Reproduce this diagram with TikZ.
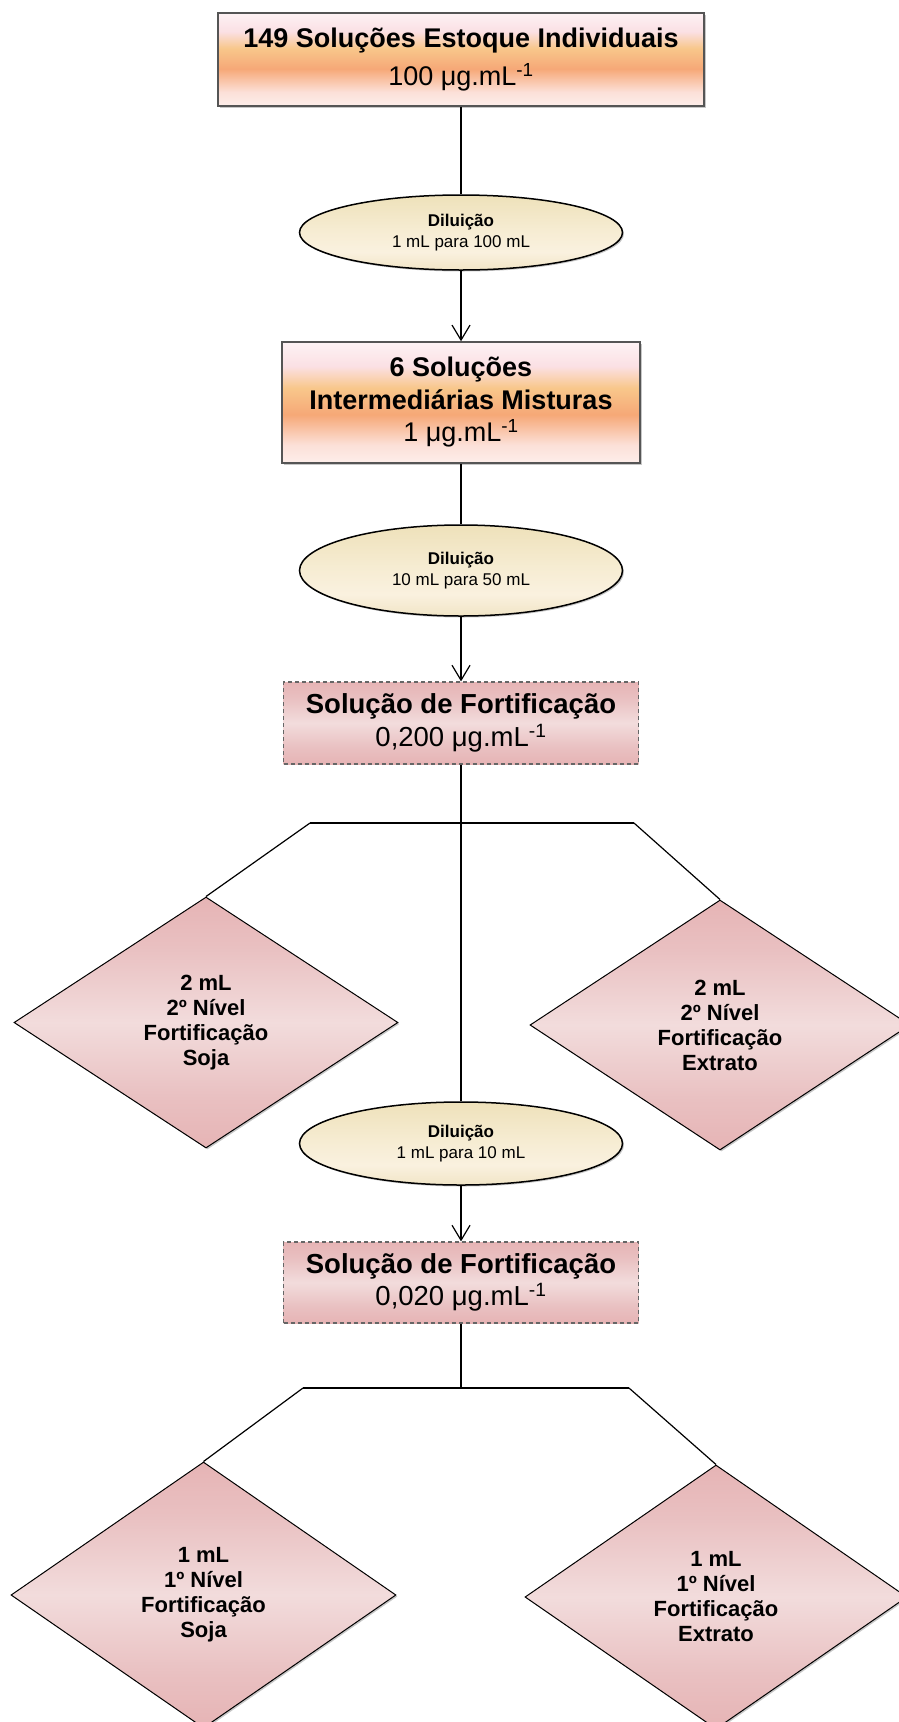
\documentclass[tikz,border=0pt]{standalone}
\usepackage{fontspec}
\setmainfont{Liberation Sans}
\usetikzlibrary{shapes.geometric,arrows.meta,shadows}

% palette
\definecolor{peachA}{HTML}{FDEEEA}
\definecolor{peachB}{HTML}{FCE0D8}
\definecolor{peachC}{HTML}{F6A877}
\definecolor{peachD}{HTML}{F8C78B}
\definecolor{peachE}{HTML}{FBE0E4}
\definecolor{peachF}{HTML}{FDF2F4}
\definecolor{roseA}{HTML}{E6B4B5}
\definecolor{roseB}{HTML}{E9C0C1}
\definecolor{roseC}{HTML}{F2DCDC}
\definecolor{creamA}{HTML}{F1E5C6}
\definecolor{creamB}{HTML}{FAF1DF}
\definecolor{creamC}{HTML}{F6ECD2}
\definecolor{creamD}{HTML}{EEE1BA}
\definecolor{boxgray}{HTML}{555555}
\definecolor{dashgray}{HTML}{666666}

% vertical shadings (bottom to top; 25bp..75bp spans the filled shape)
\pgfdeclareverticalshading{peach}{100bp}{color(0bp)=(peachA); color(25bp)=(peachA);
  color(32.5bp)=(peachB); color(45bp)=(peachC); color(56bp)=(peachD);
  color(65bp)=(peachE); color(75bp)=(peachF); color(100bp)=(peachF)}
\pgfdeclareverticalshading{rose}{100bp}{color(0bp)=(roseA); color(25bp)=(roseA);
  color(35bp)=(roseB); color(50bp)=(roseC); color(65bp)=(roseB);
  color(75bp)=(roseA); color(100bp)=(roseA)}
\pgfdeclareverticalshading{cream}{100bp}{color(0bp)=(creamA); color(25bp)=(creamA);
  color(37bp)=(creamB); color(52bp)=(creamC); color(75bp)=(creamD); color(100bp)=(creamD)}

\tikzset{
  conn/.style={line width=1.2pt, draw=black},
  flowarrow/.style={conn, -{Straight Barb[length=15pt,width=18pt]}},
  softshadow/.style={drop shadow={shadow xshift=1.5pt, shadow yshift=-1.5pt, opacity=0.22, fill=black}},
  stockbox/.style={rectangle, draw=boxgray, line width=1.5pt, shade, shading=peach,
    inner sep=0pt, align=center, softshadow},
  fortbox/.style={rectangle, draw=dashgray, line width=1.2pt, dash pattern=on 4pt off 3pt,
    shade, shading=rose, minimum width=355pt, inner sep=0pt, align=center,
    font=\fontsize{27.5}{32.5}\selectfont},
  diluent/.style={ellipse, draw=black, line width=1.5pt, shade, shading=cream,
    minimum width=323pt, inner sep=0pt, align=center, softshadow,
    font=\fontsize{17}{21.5}\selectfont},
  levelbox/.style={diamond, draw=black, line width=1pt, shade, shading=rose,
    inner sep=0pt, align=center, softshadow,
    font=\bfseries\fontsize{22}{25}\selectfont},
}

\begin{document}
\begin{tikzpicture}[x=1pt,y=1pt]
  \fill[white] (0,0) rectangle (899,-1722);
  \useasboundingbox (0,0) rectangle (899,-1722);

  % main column
  \node[stockbox, minimum width=486pt, minimum height=93pt,
        font=\fontsize{27}{37.7}\selectfont] (b1) at (461,-59.5)
    {\textbf{149 Soluções Estoque Individuais}\\100 μg.mL\textsuperscript{-1}};
  \node[diluent, minimum height=75pt] (e1) at (461,-232.5)
    {\textbf{Diluição}\\1 mL para 100 mL};
  \node[stockbox, minimum width=358pt, minimum height=121pt,
        font=\fontsize{27}{32.5}\selectfont] (b2) at (461,-402.5)
    {\textbf{6 Soluções}\\\textbf{Intermediárias Misturas}\\1 μg.mL\textsuperscript{-1}};
  \node[diluent, minimum height=91pt] (e2) at (461,-570.5)
    {\textbf{Diluição}\\10 mL para 50 mL};
  \node[fortbox, minimum height=82pt] (b3) at (461,-723)
    {\textbf{Solução de Fortificação}\\0,200 μg.mL\textsuperscript{-1}};
  \node[diluent, minimum height=83pt] (e3) at (461,-1143.5)
    {\textbf{Diluição}\\1 mL para 10 mL};
  \node[fortbox, minimum height=81pt] (b4) at (461,-1282.5)
    {\textbf{Solução de Fortificação}\\0,020 μg.mL\textsuperscript{-1}};

  % fortification levels
  \node[levelbox, minimum width=384pt, minimum height=251pt] (d1) at (206,-1022.5)
    {2 mL\\2º Nível\\Fortificação\\Soja};
  \node[levelbox, minimum width=380pt, minimum height=250pt] (d2) at (720,-1025)
    {2 mL\\2º Nível\\Fortificação\\Extrato};
  \node[levelbox, minimum width=385pt, minimum height=266pt] (d3) at (203.5,-1595)
    {1 mL\\1º Nível\\Fortificação\\Soja};
  \node[levelbox, minimum width=382pt, minimum height=264pt] (d4) at (716,-1597)
    {1 mL\\1º Nível\\Fortificação\\Extrato};

  % branch points
  \coordinate (j1l) at (310,-823);
  \coordinate (j1r) at (634,-823);
  \coordinate (j2)  at (461,-1388);
  \coordinate (j2l) at (303,-1388);
  \coordinate (j2r) at (629,-1388);

  % connectors
  \draw[conn] (b1.south) -- (e1.north);
  \draw[flowarrow] (e1.south) -- (b2.north);
  \draw[conn] (b2.south) -- (e2.north);
  \draw[flowarrow] (e2.south) -- (b3.north);
  \draw[conn] (b3.south) -- (e3.north);
  \draw[conn] (j1l) -- (j1r);
  \draw[conn] (j1l) -- (d1.north);
  \draw[conn] (j1r) -- (d2.north);
  \draw[flowarrow] (e3.south) -- (b4.north);
  \draw[conn] (b4.south) -- (j2);
  \draw[conn] (j2l) -- (j2r);
  \draw[conn] (j2l) -- (d3.north);
  \draw[conn] (j2r) -- (d4.north);
\end{tikzpicture}
\end{document}
